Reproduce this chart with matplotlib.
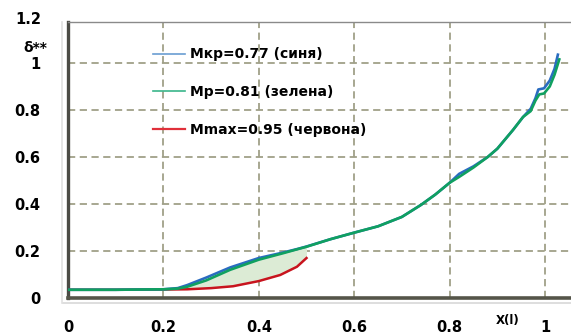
import numpy as np
import matplotlib
matplotlib.use("Agg")
import matplotlib.pyplot as plt
from matplotlib.lines import Line2D

plt.rcParams['font.family'] = ['DejaVu Sans']
plt.rcParams['font.weight'] = 'bold'

# Mкр = 0.77 (blue)
x_kr = [0.0, 0.1, 0.2, 0.23, 0.25, 0.29, 0.34, 0.4, 0.45, 0.48, 0.5, 0.55, 0.6, 0.65,
        0.7, 0.74, 0.77, 0.8, 0.82, 0.85, 0.88, 0.9, 0.933, 0.954, 0.97, 0.98, 0.986,
        0.998, 1.01, 1.02, 1.027]
y_kr = [0.035, 0.035, 0.037, 0.042, 0.055, 0.087, 0.13, 0.17, 0.193, 0.208, 0.219, 0.25,
        0.278, 0.305, 0.345, 0.396, 0.44, 0.49, 0.528, 0.56, 0.6, 0.635, 0.715, 0.77,
        0.805, 0.85, 0.887, 0.892, 0.925, 0.975, 1.035]

# Mр = 0.81 (green)
x_p = [0.0, 0.1, 0.2, 0.23, 0.25, 0.29, 0.34, 0.4, 0.45, 0.48, 0.5, 0.55, 0.6, 0.65,
       0.7, 0.74, 0.77, 0.8, 0.82, 0.85, 0.88, 0.9, 0.933, 0.954, 0.97, 0.98, 0.988,
       0.998, 1.01, 1.02, 1.03]
y_p = [0.035, 0.035, 0.037, 0.04, 0.048, 0.075, 0.12, 0.163, 0.19, 0.207, 0.218, 0.25,
       0.278, 0.305, 0.345, 0.396, 0.44, 0.49, 0.515, 0.555, 0.6, 0.635, 0.715, 0.77,
       0.795, 0.84, 0.866, 0.87, 0.9, 0.95, 1.015]

# Mmax = 0.95 (red)
x_max = [0.0, 0.1, 0.2, 0.25, 0.3, 0.346, 0.4, 0.445, 0.48, 0.5]
y_max = [0.035, 0.035, 0.036, 0.037, 0.042, 0.05, 0.072, 0.098, 0.133, 0.17]

labels = ["Mкр=0.77 (синя)", "Mр=0.81 (зелена)", "Mmax=0.95 (червона)"]
x_ticks = [0, 0.2, 0.4, 0.6, 0.8, 1]
x_tick_labels = ["0", "0.2", "0.4", "0.6", "0.8", "1"]
y_ticks = [0, 0.2, 0.4, 0.6, 0.8, 1]
y_tick_labels = ["0", "0.2", "0.4", "0.6", "0.8", "1"]

fig = plt.figure(figsize=(5.71, 3.36), dpi=100)
ax = fig.add_axes([68 / 571, 38 / 336, 503 / 571, 276 / 336])
ax.set_xlim(0, 1.0545)
ax.set_ylim(0, 1.174)

grid_kw = dict(color='#a0a088', lw=1.3, ls=(0, (4, 2.5)), zorder=1)
for gx in [0.2, 0.4, 0.6, 0.8, 1.0]:
    ax.axvline(gx, **grid_kw)
for gy in [0.2, 0.4, 0.6, 0.8, 1.0]:
    ax.axhline(gy, **grid_kw)

# shaded gap between the green and red curves
xr = np.array(x_max)
sel = xr >= 0.2
ax.fill_between(xr[sel], np.array(y_max)[sel], np.interp(xr[sel], x_p, y_p),
                color='#dcebd5', lw=0, zorder=2)

ax.plot(x_max, y_max, color='#c8141e', lw=1.8, zorder=3)
ax.plot(x_kr, y_kr, color='#2a6cc0', lw=1.9, zorder=3)
ax.plot(x_p, y_p, color='#10a060', lw=1.9, zorder=4)

tick_fs = 10.5
ax.set_xticks(x_ticks)
ax.set_xticklabels(x_tick_labels, fontsize=tick_fs, fontweight='bold')
ax.set_yticks(y_ticks)
ax.set_yticklabels(y_tick_labels, fontsize=tick_fs, fontweight='bold')
ax.tick_params(axis='x', length=0, pad=16)
ax.tick_params(axis='y', length=0, pad=20)
ax.text(-0.056, 1.183, "1.2", transform=ax.transData, ha='right', va='center',
        fontsize=tick_fs, fontweight='bold', clip_on=False)

ax.text(-0.068, 1.062, "δ**", ha='center', va='center', fontsize=10,
        fontweight='bold', clip_on=False)
ax.text(0.922, -0.095, "X(l)", ha='center', va='center', fontsize=8.5,
        fontweight='bold', clip_on=False)

ax.spines['right'].set_visible(False)
ax.spines['top'].set_color('#8a8a8a')
ax.spines['top'].set_linewidth(1.0)
ax.spines['left'].set_color('#4a4a44')
ax.spines['left'].set_linewidth(2.4)
ax.spines['bottom'].set_color('#555549')
ax.spines['bottom'].set_linewidth(2.6)
ax.add_line(Line2D([-0.01, 1], [-0.018, -0.018], transform=ax.transAxes,
                   color='#d8d8d8', lw=1.2, clip_on=False))
ax.add_line(Line2D([-0.012, -0.012], [-0.018, 1], transform=ax.transAxes,
                   color='#e0e0e0', lw=1.2, clip_on=False))

handles = [Line2D([], [], color='#6a9dd2', lw=1.2),
           Line2D([], [], color='#3ab58a', lw=1.2),
           Line2D([], [], color='#e0303a', lw=1.6)]
leg = ax.legend(handles, labels, loc='upper left', bbox_to_anchor=(0.158, 0.928),
                frameon=False, fontsize=10, handlelength=2.3, handletextpad=0.36,
                labelspacing=1.7, borderaxespad=0)
for t in leg.get_texts():
    t.set_fontweight('bold')

fig.savefig("out.png", dpi=100)
